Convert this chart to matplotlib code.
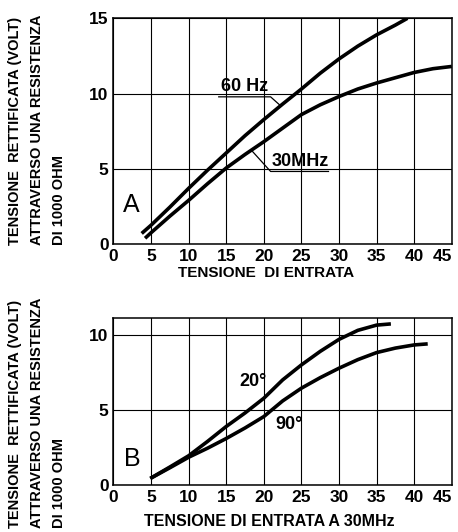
import matplotlib
matplotlib.use('Agg')
from matplotlib import pyplot as plt
import numpy as np

# Chart A: rectified voltage vs input voltage
a_x_60hz = [3.75, 5, 7.5, 10, 12.5, 15, 17.5, 20, 22.5, 25, 27.5, 30, 32.5, 35, 37.5, 39.1]
a_y_60hz = [0.7, 1.25, 2.45, 3.7, 4.9, 6.05, 7.2, 8.27, 9.3, 10.3, 11.35, 12.3, 13.15, 13.9, 14.55, 15.0]
a_x_30mhz = [4.2, 5, 7.5, 10, 12.5, 15, 17.5, 20, 22.5, 25, 27.5, 30, 32.5, 35, 37.5, 40, 42.5, 45]
a_y_30mhz = [0.38, 0.75, 1.85, 2.9, 4.0, 5.05, 5.95, 6.8, 7.7, 8.6, 9.25, 9.8, 10.3, 10.7, 11.05, 11.4, 11.65, 11.8]

# Chart B: rectified voltage vs input voltage at 30 MHz
b_x_20 = [4.9, 7.5, 10, 12.5, 15, 17.5, 20, 22.5, 25, 27.5, 30, 32.5, 35, 36.9]
b_y_20 = [0.44, 1.2, 1.95, 2.9, 3.9, 4.8, 5.78, 7.0, 8.0, 8.9, 9.7, 10.3, 10.65, 10.73]
b_x_90 = [4.9, 7.5, 10, 12.5, 15, 17.5, 20, 22.5, 25, 27.5, 30, 32.5, 35, 37.5, 40, 41.8]
b_y_90 = [0.44, 1.15, 1.85, 2.45, 3.1, 3.8, 4.56, 5.6, 6.45, 7.15, 7.78, 8.35, 8.82, 9.12, 9.33, 9.4]

x_ticks = [0, 5, 10, 15, 20, 25, 30, 35, 40, 45]
a_y_ticks = [0, 5, 10, 15]
b_y_ticks = [0, 5, 10]

ylabel_lines = ['TENSIONE  RETTIFICATA (VOLT)', 'ATTRAVERSO UNA RESISTENZA', 'DI 1000 OHM']

plt.rcParams['font.family'] = ['Liberation Sans', 'DejaVu Sans']

fig = plt.figure(figsize=(4.58, 5.32), dpi=100)
ax_a = fig.add_axes([0.2478, 0.5414, 0.7386, 0.4242])
ax_b = fig.add_axes([0.2478, 0.0883, 0.7386, 0.3133])


def style_axes(ax, yticks, ymax):
    ax.set_xlim(0, 45)
    ax.set_ylim(0, ymax)
    ax.set_xticks(x_ticks)
    ax.set_yticks(yticks)
    ax.grid(True, color='black', linewidth=0.8)
    ax.tick_params(length=0, pad=3.5, labelsize=12.5)
    for lab in ax.get_xticklabels() + ax.get_yticklabels():
        lab.set_fontweight('bold')
    ax.get_xticklabels()[-1].set_horizontalalignment('right')
    for s in ax.spines.values():
        s.set_linewidth(1.1)


style_axes(ax_a, a_y_ticks, 15)
style_axes(ax_b, b_y_ticks, 11.1)

lw = 2.6
ax_a.plot(a_x_60hz, a_y_60hz, color='black', linewidth=lw, solid_capstyle='butt')
ax_a.plot(a_x_30mhz, a_y_30mhz, color='black', linewidth=lw, solid_capstyle='butt')
ax_b.plot(b_x_20, b_y_20, color='black', linewidth=lw, solid_capstyle='butt')
ax_b.plot(b_x_90, b_y_90, color='black', linewidth=lw, solid_capstyle='butt')

# curve labels with leader lines
ax_a.text(17.4, 9.88, '60 Hz', ha='center', va='bottom', fontsize=13, fontweight='bold')
ax_a.plot([14.0, 20.9, 22.2], [9.78, 9.78, 9.2], color='black', linewidth=0.9)
ax_a.text(24.8, 4.93, '30MHz', ha='center', va='bottom', fontsize=13, fontweight='bold')
ax_a.plot([28.6, 20.9, 18.4], [4.82, 4.82, 6.2], color='black', linewidth=0.9)
ax_a.text(2.3, 2.6, 'A', ha='center', va='center', fontsize=18)

ax_b.text(18.6, 6.9, '20°', ha='center', va='center', fontsize=13, fontweight='bold')
ax_b.text(23.4, 4.0, '90°', ha='center', va='center', fontsize=13, fontweight='bold')
ax_b.text(2.5, 1.7, 'B', ha='center', va='center', fontsize=18)

ax_a.set_xlabel('TENSIONE  DI ENTRATA', fontsize=11, fontweight='bold')
ax_a.xaxis.set_label_coords(0.45, -0.098, transform=ax_a.transAxes)
ax_a.xaxis.label.set_va('top')
ax_b.set_xlabel('TENSIONE DI ENTRATA A 30MHz', fontsize=11.5, fontweight='bold')
ax_b.xaxis.set_label_coords(0.462, -0.175, transform=ax_b.transAxes)
ax_b.xaxis.label.set_va('top')

for bottom in (1 - 245 / 532, 1 - 528 / 532):
    for xpx, line in zip((15, 37, 59), ylabel_lines):
        fig.text(xpx / 458, bottom, line, rotation=90, ha='center', va='bottom',
                 fontsize=10.5, fontweight='bold')

fig.savefig('out.png', dpi=100)
